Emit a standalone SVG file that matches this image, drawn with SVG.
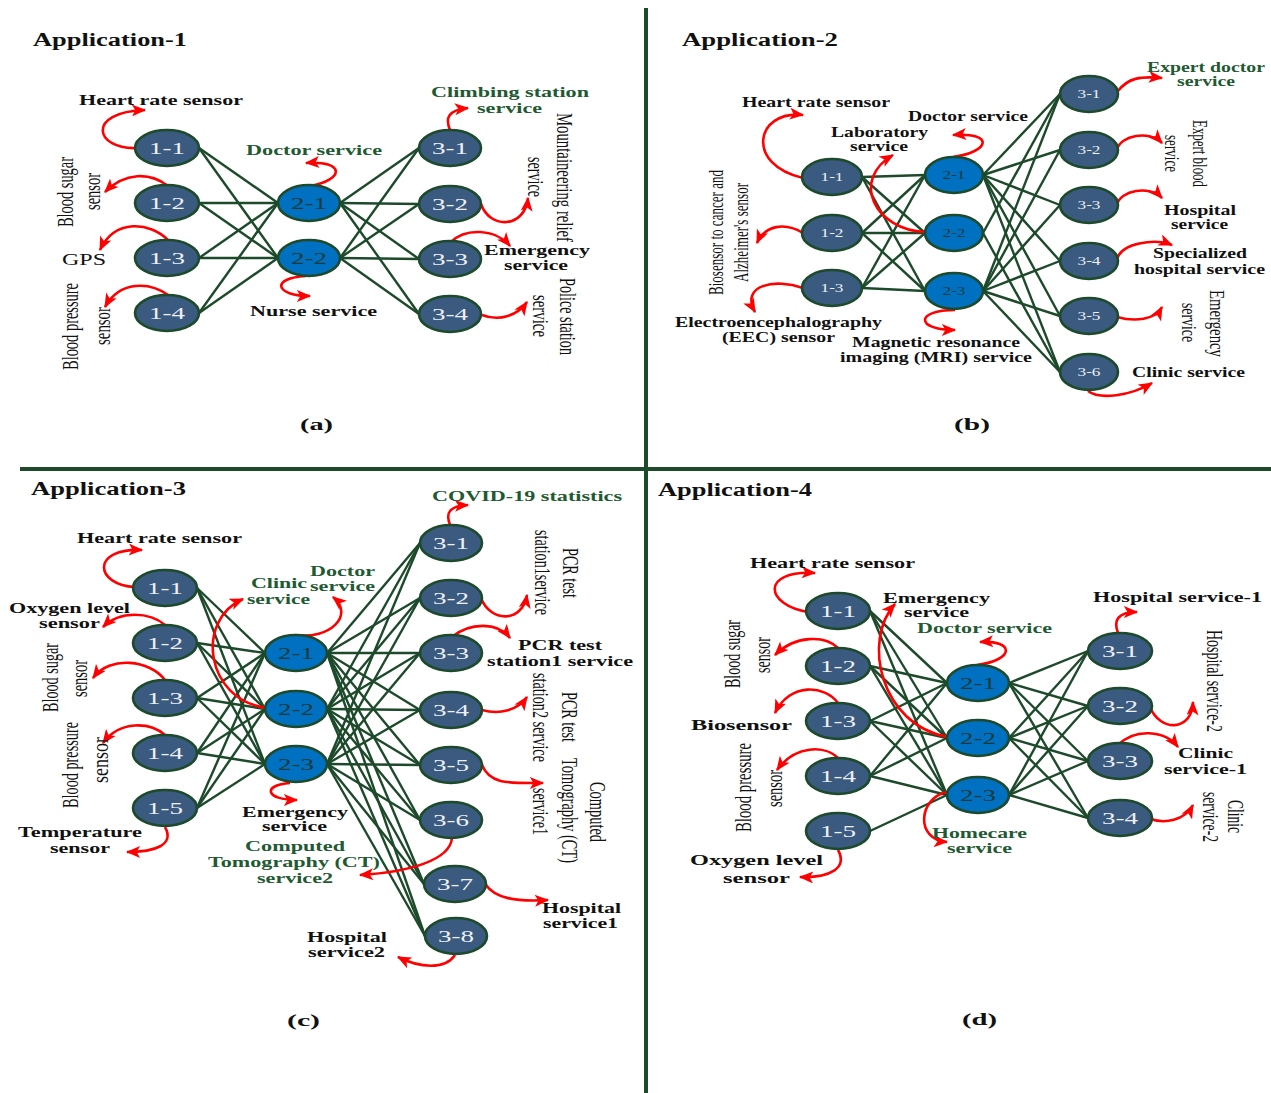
<svg xmlns="http://www.w3.org/2000/svg" width="1271" height="1093" viewBox="0 0 1271 1093">
<defs>
<marker id="ah" viewBox="0 0 12 10" refX="11" refY="5" markerWidth="15" markerHeight="12" markerUnits="userSpaceOnUse" orient="auto">
<path d="M0,0 L12,5 L0,10 L3,5 z" fill="#ff0000"/>
</marker>
<style>
.lk line{stroke:#1d4a2b;stroke-width:2.4}
.ar path{fill:none;stroke:#ff0000;stroke-width:2.6;marker-end:url(#ah)}
.n ellipse{fill:#3a5a80;stroke:#1d4a2b;stroke-width:2.6}
.n.m ellipse{fill:#0070c0}
.n text{font-family:"Liberation Serif",serif;font-size:17px;fill:#eef0f5;text-anchor:middle}
.n.m text{fill:#183a3a}
.sm text{font-size:12px}
.t{font-family:"Liberation Serif",serif;font-weight:bold;font-size:14px;fill:#111}
.g{fill:#1f5a33}
.h{font-size:18px}
.p{font-size:16px}
.r{font-family:"Liberation Serif",serif;font-size:17px;fill:#111;text-anchor:middle}
.rs{font-size:15px}
.dv{stroke:#1d4a2b;stroke-width:4}
</style>
</defs>
<rect width="1271" height="1093" fill="#ffffff"/>

<!-- quadrant dividers -->
<g id="dividers">
<line class="dv" x1="646" y1="8" x2="646" y2="1093"/>
<line class="dv" x1="20" y1="469" x2="1271" y2="469"/>
</g>

<!-- links between layers -->
<g id="connectors" class="lk">
<!-- (a) -->
<line x1="199" y1="148" x2="278" y2="203"/><line x1="199" y1="148" x2="278" y2="258"/>
<line x1="199" y1="203" x2="278" y2="203"/><line x1="199" y1="203" x2="278" y2="258"/>
<line x1="199" y1="258" x2="278" y2="203"/><line x1="199" y1="258" x2="278" y2="258"/>
<line x1="199" y1="313" x2="278" y2="203"/><line x1="199" y1="313" x2="278" y2="258"/>
<line x1="340" y1="203" x2="419" y2="148"/><line x1="340" y1="203" x2="419" y2="204"/>
<line x1="340" y1="203" x2="419" y2="259"/><line x1="340" y1="203" x2="419" y2="314"/>
<line x1="340" y1="258" x2="419" y2="148"/><line x1="340" y1="258" x2="419" y2="204"/>
<line x1="340" y1="258" x2="419" y2="259"/><line x1="340" y1="258" x2="419" y2="314"/>
<!-- (b) -->
<line x1="862" y1="177" x2="925" y2="175"/><line x1="862" y1="177" x2="925" y2="233"/><line x1="862" y1="177" x2="925" y2="291"/>
<line x1="862" y1="233" x2="925" y2="175"/><line x1="862" y1="233" x2="925" y2="233"/><line x1="862" y1="233" x2="925" y2="291"/>
<line x1="862" y1="288" x2="925" y2="175"/><line x1="862" y1="288" x2="925" y2="233"/><line x1="862" y1="288" x2="925" y2="291"/>
<line x1="983" y1="175" x2="1060" y2="94"/><line x1="983" y1="175" x2="1060" y2="150"/><line x1="983" y1="175" x2="1060" y2="205"/>
<line x1="983" y1="175" x2="1060" y2="261"/><line x1="983" y1="175" x2="1060" y2="316"/><line x1="983" y1="175" x2="1060" y2="372"/>
<line x1="983" y1="233" x2="1060" y2="94"/><line x1="983" y1="233" x2="1060" y2="372"/>
<line x1="983" y1="291" x2="1060" y2="94"/><line x1="983" y1="291" x2="1060" y2="150"/><line x1="983" y1="291" x2="1060" y2="205"/>
<line x1="983" y1="291" x2="1060" y2="261"/><line x1="983" y1="291" x2="1060" y2="316"/><line x1="983" y1="291" x2="1060" y2="372"/>
<!-- (c) -->
<line x1="197" y1="588" x2="265" y2="653"/><line x1="197" y1="588" x2="265" y2="709"/><line x1="197" y1="588" x2="265" y2="764"/>
<line x1="197" y1="643" x2="265" y2="653"/><line x1="197" y1="643" x2="265" y2="709"/><line x1="197" y1="643" x2="265" y2="764"/>
<line x1="197" y1="698" x2="265" y2="653"/><line x1="197" y1="698" x2="265" y2="709"/><line x1="197" y1="698" x2="265" y2="764"/>
<line x1="197" y1="753" x2="265" y2="653"/><line x1="197" y1="753" x2="265" y2="709"/><line x1="197" y1="753" x2="265" y2="764"/>
<line x1="197" y1="808" x2="265" y2="653"/><line x1="197" y1="808" x2="265" y2="709"/><line x1="197" y1="808" x2="265" y2="764"/>
<line x1="327" y1="653" x2="420" y2="543"/><line x1="327" y1="653" x2="420" y2="598"/><line x1="327" y1="653" x2="420" y2="653"/><line x1="327" y1="653" x2="420" y2="710"/>
<line x1="327" y1="653" x2="420" y2="765"/><line x1="327" y1="653" x2="420" y2="820"/><line x1="327" y1="653" x2="424" y2="884"/><line x1="327" y1="653" x2="425" y2="936"/>
<line x1="327" y1="709" x2="420" y2="543"/><line x1="327" y1="709" x2="420" y2="598"/><line x1="327" y1="709" x2="420" y2="653"/><line x1="327" y1="709" x2="420" y2="710"/>
<line x1="327" y1="709" x2="420" y2="765"/><line x1="327" y1="709" x2="420" y2="820"/><line x1="327" y1="709" x2="424" y2="884"/><line x1="327" y1="709" x2="425" y2="936"/>
<line x1="327" y1="764" x2="420" y2="543"/><line x1="327" y1="764" x2="420" y2="598"/><line x1="327" y1="764" x2="420" y2="653"/><line x1="327" y1="764" x2="420" y2="710"/>
<line x1="327" y1="764" x2="420" y2="765"/><line x1="327" y1="764" x2="420" y2="820"/><line x1="327" y1="764" x2="424" y2="884"/><line x1="327" y1="764" x2="425" y2="936"/>
<!-- (d) -->
<line x1="870" y1="611" x2="947" y2="683"/><line x1="870" y1="611" x2="947" y2="738"/><line x1="870" y1="611" x2="947" y2="795"/>
<line x1="870" y1="666" x2="947" y2="683"/><line x1="870" y1="666" x2="947" y2="738"/><line x1="870" y1="666" x2="947" y2="795"/>
<line x1="870" y1="721" x2="947" y2="683"/><line x1="870" y1="721" x2="947" y2="738"/><line x1="870" y1="721" x2="947" y2="795"/>
<line x1="870" y1="776" x2="947" y2="683"/><line x1="870" y1="776" x2="947" y2="738"/><line x1="870" y1="776" x2="947" y2="795"/>
<line x1="870" y1="831" x2="947" y2="795"/>
<line x1="1009" y1="683" x2="1088" y2="651"/><line x1="1009" y1="683" x2="1088" y2="706"/><line x1="1009" y1="683" x2="1088" y2="761"/><line x1="1009" y1="683" x2="1088" y2="818"/>
<line x1="1009" y1="738" x2="1088" y2="651"/><line x1="1009" y1="738" x2="1088" y2="706"/><line x1="1009" y1="738" x2="1088" y2="761"/><line x1="1009" y1="738" x2="1088" y2="818"/>
<line x1="1009" y1="795" x2="1088" y2="651"/><line x1="1009" y1="795" x2="1088" y2="706"/><line x1="1009" y1="795" x2="1088" y2="761"/><line x1="1009" y1="795" x2="1088" y2="818"/>
</g>

<!-- service / sensor call-out arrows -->
<g id="callouts" class="ar">
<!-- (a) -->
<path d="M137,148 C95,150 85,112 145,110"/>
<path d="M168,186 C150,172 125,172 105,192"/>
<path d="M168,240 C150,222 115,218 100,250"/>
<path d="M168,295 C150,282 120,280 105,307"/>
<path d="M310,186 C345,180 345,160 306,163"/>
<path d="M306,276 C270,278 275,296 310,296"/>
<path d="M450,130 C445,118 448,110 468,108"/>
<path d="M481,204 C490,230 525,228 528,198"/>
<path d="M451,242 C465,228 495,228 510,246"/>
<path d="M482,315 C500,322 518,315 527,302"/>
<!-- (b) -->
<path d="M803,178 C745,165 755,110 803,115"/>
<path d="M803,233 C785,222 765,225 757,243"/>
<path d="M803,288 C775,278 740,285 755,312"/>
<path d="M925,232 C875,230 850,180 893,155"/>
<path d="M953,157 C990,152 995,132 953,135"/>
<path d="M955,310 C915,310 915,330 955,330"/>
<path d="M1118,91 C1128,78 1140,76 1162,78"/>
<path d="M1117,150 C1120,135 1150,130 1162,143"/>
<path d="M1117,205 C1120,190 1150,185 1162,198"/>
<path d="M1117,260 C1120,243 1155,238 1172,245"/>
<path d="M1117,317 C1135,322 1155,320 1162,307"/>
<path d="M1088,391 C1100,400 1130,396 1152,383"/>
<!-- (c) -->
<path d="M135,587 C95,585 90,548 142,550"/>
<path d="M165,625 C150,612 120,610 103,627"/>
<path d="M165,680 C150,660 110,655 93,678"/>
<path d="M165,735 C150,722 120,720 103,743"/>
<path d="M165,827 C175,845 155,852 127,852"/>
<path d="M267,708 C205,700 195,620 243,599"/>
<path d="M295,635 C330,640 355,615 333,597"/>
<path d="M290,783 C262,785 265,800 297,800"/>
<path d="M450,525 C445,512 450,506 468,505"/>
<path d="M481,598 C490,622 522,624 527,595"/>
<path d="M452,637 C470,622 498,622 510,638"/>
<path d="M482,710 C500,715 518,710 527,697"/>
<path d="M482,765 C490,785 510,783 543,783"/>
<path d="M452,838 C450,860 410,872 360,875"/>
<path d="M486,885 C495,898 515,902 548,900"/>
<path d="M455,955 C445,970 420,968 398,957"/>
<!-- (d) -->
<path d="M808,612 C765,605 760,570 815,573"/>
<path d="M838,648 C825,635 795,635 775,655"/>
<path d="M838,703 C825,685 790,682 775,713"/>
<path d="M838,758 C825,745 795,745 777,770"/>
<path d="M838,850 C848,868 830,878 800,877"/>
<path d="M948,737 C880,725 862,640 895,604"/>
<path d="M977,665 C1015,660 1015,640 980,642"/>
<path d="M947,792 C918,798 915,840 947,842"/>
<path d="M1118,633 C1113,620 1118,612 1137,612"/>
<path d="M1150,707 C1160,732 1192,732 1193,702"/>
<path d="M1118,745 C1135,728 1165,730 1178,747"/>
<path d="M1148,818 C1165,825 1185,820 1193,805"/>
</g>

<!-- (a) nodes -->
<g id="a-1-1" class="n"><ellipse cx="167" cy="148" rx="32" ry="18"/><text x="167" y="154" textLength="36" lengthAdjust="spacingAndGlyphs">1-1</text></g>
<g id="a-1-2" class="n"><ellipse cx="167" cy="203" rx="32" ry="18"/><text x="167" y="209" textLength="36" lengthAdjust="spacingAndGlyphs">1-2</text></g>
<g id="a-1-3" class="n"><ellipse cx="167" cy="258" rx="32" ry="18"/><text x="167" y="264" textLength="36" lengthAdjust="spacingAndGlyphs">1-3</text></g>
<g id="a-1-4" class="n"><ellipse cx="167" cy="313" rx="32" ry="18"/><text x="167" y="319" textLength="36" lengthAdjust="spacingAndGlyphs">1-4</text></g>
<g id="a-2-1" class="n m"><ellipse cx="309" cy="203" rx="31" ry="18"/><text x="309" y="209" textLength="36" lengthAdjust="spacingAndGlyphs">2-1</text></g>
<g id="a-2-2" class="n m"><ellipse cx="309" cy="258" rx="31" ry="18"/><text x="309" y="264" textLength="36" lengthAdjust="spacingAndGlyphs">2-2</text></g>
<g id="a-3-1" class="n"><ellipse cx="450" cy="148" rx="31" ry="18"/><text x="450" y="154" textLength="36" lengthAdjust="spacingAndGlyphs">3-1</text></g>
<g id="a-3-2" class="n"><ellipse cx="450" cy="204" rx="31" ry="18"/><text x="450" y="210" textLength="36" lengthAdjust="spacingAndGlyphs">3-2</text></g>
<g id="a-3-3" class="n"><ellipse cx="450" cy="259" rx="31" ry="18"/><text x="450" y="265" textLength="36" lengthAdjust="spacingAndGlyphs">3-3</text></g>
<g id="a-3-4" class="n"><ellipse cx="450" cy="314" rx="31" ry="18"/><text x="450" y="320" textLength="36" lengthAdjust="spacingAndGlyphs">3-4</text></g>

<!-- (b) nodes -->
<g id="b-1-1" class="n sm"><ellipse cx="832" cy="177" rx="30" ry="18"/><text x="832" y="181" textLength="23" lengthAdjust="spacingAndGlyphs">1-1</text></g>
<g id="b-1-2" class="n sm"><ellipse cx="832" cy="233" rx="30" ry="18"/><text x="832" y="237" textLength="23" lengthAdjust="spacingAndGlyphs">1-2</text></g>
<g id="b-1-3" class="n sm"><ellipse cx="832" cy="288" rx="30" ry="18"/><text x="832" y="292" textLength="23" lengthAdjust="spacingAndGlyphs">1-3</text></g>
<g id="b-2-1" class="n m sm"><ellipse cx="954" cy="175" rx="29" ry="18"/><text x="954" y="179" textLength="23" lengthAdjust="spacingAndGlyphs">2-1</text></g>
<g id="b-2-2" class="n m sm"><ellipse cx="954" cy="233" rx="29" ry="18"/><text x="954" y="237" textLength="23" lengthAdjust="spacingAndGlyphs">2-2</text></g>
<g id="b-2-3" class="n m sm"><ellipse cx="954" cy="291" rx="29" ry="18"/><text x="954" y="295" textLength="23" lengthAdjust="spacingAndGlyphs">2-3</text></g>
<g id="b-3-1" class="n sm"><ellipse cx="1089" cy="94" rx="29" ry="18"/><text x="1089" y="98" textLength="23" lengthAdjust="spacingAndGlyphs">3-1</text></g>
<g id="b-3-2" class="n sm"><ellipse cx="1089" cy="150" rx="29" ry="18"/><text x="1089" y="154" textLength="23" lengthAdjust="spacingAndGlyphs">3-2</text></g>
<g id="b-3-3" class="n sm"><ellipse cx="1089" cy="205" rx="29" ry="18"/><text x="1089" y="209" textLength="23" lengthAdjust="spacingAndGlyphs">3-3</text></g>
<g id="b-3-4" class="n sm"><ellipse cx="1089" cy="261" rx="29" ry="18"/><text x="1089" y="265" textLength="23" lengthAdjust="spacingAndGlyphs">3-4</text></g>
<g id="b-3-5" class="n sm"><ellipse cx="1089" cy="316" rx="29" ry="18"/><text x="1089" y="320" textLength="23" lengthAdjust="spacingAndGlyphs">3-5</text></g>
<g id="b-3-6" class="n sm"><ellipse cx="1089" cy="372" rx="29" ry="18"/><text x="1089" y="376" textLength="23" lengthAdjust="spacingAndGlyphs">3-6</text></g>

<!-- (c) nodes -->
<g id="c-1-1" class="n"><ellipse cx="165" cy="588" rx="32" ry="18"/><text x="165" y="594" textLength="36" lengthAdjust="spacingAndGlyphs">1-1</text></g>
<g id="c-1-2" class="n"><ellipse cx="165" cy="643" rx="32" ry="18"/><text x="165" y="649" textLength="36" lengthAdjust="spacingAndGlyphs">1-2</text></g>
<g id="c-1-3" class="n"><ellipse cx="165" cy="698" rx="32" ry="18"/><text x="165" y="704" textLength="36" lengthAdjust="spacingAndGlyphs">1-3</text></g>
<g id="c-1-4" class="n"><ellipse cx="165" cy="753" rx="32" ry="18"/><text x="165" y="759" textLength="36" lengthAdjust="spacingAndGlyphs">1-4</text></g>
<g id="c-1-5" class="n"><ellipse cx="165" cy="808" rx="32" ry="18"/><text x="165" y="814" textLength="36" lengthAdjust="spacingAndGlyphs">1-5</text></g>
<g id="c-2-1" class="n m"><ellipse cx="296" cy="653" rx="31" ry="18"/><text x="296" y="659" textLength="36" lengthAdjust="spacingAndGlyphs">2-1</text></g>
<g id="c-2-2" class="n m"><ellipse cx="296" cy="709" rx="31" ry="18"/><text x="296" y="715" textLength="36" lengthAdjust="spacingAndGlyphs">2-2</text></g>
<g id="c-2-3" class="n m"><ellipse cx="296" cy="764" rx="31" ry="18"/><text x="296" y="770" textLength="36" lengthAdjust="spacingAndGlyphs">2-3</text></g>
<g id="c-3-1" class="n"><ellipse cx="451" cy="543" rx="31" ry="18"/><text x="451" y="549" textLength="36" lengthAdjust="spacingAndGlyphs">3-1</text></g>
<g id="c-3-2" class="n"><ellipse cx="451" cy="598" rx="31" ry="18"/><text x="451" y="604" textLength="36" lengthAdjust="spacingAndGlyphs">3-2</text></g>
<g id="c-3-3" class="n"><ellipse cx="451" cy="653" rx="31" ry="18"/><text x="451" y="659" textLength="36" lengthAdjust="spacingAndGlyphs">3-3</text></g>
<g id="c-3-4" class="n"><ellipse cx="451" cy="710" rx="31" ry="18"/><text x="451" y="716" textLength="36" lengthAdjust="spacingAndGlyphs">3-4</text></g>
<g id="c-3-5" class="n"><ellipse cx="451" cy="765" rx="31" ry="18"/><text x="451" y="771" textLength="36" lengthAdjust="spacingAndGlyphs">3-5</text></g>
<g id="c-3-6" class="n"><ellipse cx="451" cy="820" rx="31" ry="18"/><text x="451" y="826" textLength="36" lengthAdjust="spacingAndGlyphs">3-6</text></g>
<g id="c-3-7" class="n"><ellipse cx="455" cy="884" rx="31" ry="18"/><text x="455" y="890" textLength="36" lengthAdjust="spacingAndGlyphs">3-7</text></g>
<g id="c-3-8" class="n"><ellipse cx="456" cy="936" rx="31" ry="18"/><text x="456" y="942" textLength="36" lengthAdjust="spacingAndGlyphs">3-8</text></g>

<!-- (d) nodes -->
<g id="d-1-1" class="n"><ellipse cx="838" cy="611" rx="32" ry="18"/><text x="838" y="617" textLength="36" lengthAdjust="spacingAndGlyphs">1-1</text></g>
<g id="d-1-2" class="n"><ellipse cx="838" cy="666" rx="32" ry="18"/><text x="838" y="672" textLength="36" lengthAdjust="spacingAndGlyphs">1-2</text></g>
<g id="d-1-3" class="n"><ellipse cx="838" cy="721" rx="32" ry="18"/><text x="838" y="727" textLength="36" lengthAdjust="spacingAndGlyphs">1-3</text></g>
<g id="d-1-4" class="n"><ellipse cx="838" cy="776" rx="32" ry="18"/><text x="838" y="782" textLength="36" lengthAdjust="spacingAndGlyphs">1-4</text></g>
<g id="d-1-5" class="n"><ellipse cx="838" cy="831" rx="32" ry="18"/><text x="838" y="837" textLength="36" lengthAdjust="spacingAndGlyphs">1-5</text></g>
<g id="d-2-1" class="n m"><ellipse cx="978" cy="683" rx="31" ry="18"/><text x="978" y="689" textLength="36" lengthAdjust="spacingAndGlyphs">2-1</text></g>
<g id="d-2-2" class="n m"><ellipse cx="978" cy="738" rx="31" ry="18"/><text x="978" y="744" textLength="36" lengthAdjust="spacingAndGlyphs">2-2</text></g>
<g id="d-2-3" class="n m"><ellipse cx="978" cy="795" rx="31" ry="18"/><text x="978" y="801" textLength="36" lengthAdjust="spacingAndGlyphs">2-3</text></g>
<g id="d-3-1" class="n"><ellipse cx="1120" cy="651" rx="32" ry="18"/><text x="1120" y="657" textLength="36" lengthAdjust="spacingAndGlyphs">3-1</text></g>
<g id="d-3-2" class="n"><ellipse cx="1120" cy="706" rx="32" ry="18"/><text x="1120" y="712" textLength="36" lengthAdjust="spacingAndGlyphs">3-2</text></g>
<g id="d-3-3" class="n"><ellipse cx="1120" cy="761" rx="32" ry="18"/><text x="1120" y="767" textLength="36" lengthAdjust="spacingAndGlyphs">3-3</text></g>
<g id="d-3-4" class="n"><ellipse cx="1120" cy="818" rx="32" ry="18"/><text x="1120" y="824" textLength="36" lengthAdjust="spacingAndGlyphs">3-4</text></g>

<!-- (a) labels -->
<g id="labels-a">
<text class="t h" x="33" y="46" textLength="154" lengthAdjust="spacingAndGlyphs">Application-1</text>
<text class="t" x="79" y="105" textLength="164" lengthAdjust="spacingAndGlyphs">Heart rate sensor</text>
<text class="t g" x="246" y="155" textLength="136" lengthAdjust="spacingAndGlyphs">Doctor service</text>
<text class="t" x="250" y="316" textLength="127" lengthAdjust="spacingAndGlyphs">Nurse service</text>
<text class="t g" x="431" y="97" textLength="158" lengthAdjust="spacingAndGlyphs">Climbing station</text>
<text class="t g" x="477" y="113" textLength="65" lengthAdjust="spacingAndGlyphs">service</text>
<text class="t" x="484" y="255" textLength="106" lengthAdjust="spacingAndGlyphs">Emergency</text>
<text class="t" x="504" y="270" textLength="64" lengthAdjust="spacingAndGlyphs">service</text>
<text class="t p" x="300" y="430" textLength="33" lengthAdjust="spacingAndGlyphs">(a)</text>
<text x="62" y="265" font-family="Liberation Serif, serif" font-size="17" fill="#111" textLength="44" lengthAdjust="spacingAndGlyphs">GPS</text>
<text class="r" transform="translate(73,192) rotate(-90) scale(1,1.4)" textLength="70" lengthAdjust="spacingAndGlyphs">Blood sugar</text>
<text class="r" transform="translate(100,191.5) rotate(-90) scale(1,1.4)" textLength="37" lengthAdjust="spacingAndGlyphs">sensor</text>
<text class="r" transform="translate(78,326.5) rotate(-90) scale(1,1.4)" textLength="87" lengthAdjust="spacingAndGlyphs">Blood pressure</text>
<text class="r" transform="translate(110,326) rotate(-90) scale(1,1.4)" textLength="38" lengthAdjust="spacingAndGlyphs">sensor</text>
<text class="r" transform="translate(557,177.5) rotate(90) scale(1,1.4)" textLength="129" lengthAdjust="spacingAndGlyphs">Mountaineering relief</text>
<text class="r" transform="translate(528,177) rotate(90) scale(1,1.4)" textLength="40" lengthAdjust="spacingAndGlyphs">service</text>
<text class="r" transform="translate(560,316.5) rotate(90) scale(1,1.4)" textLength="77" lengthAdjust="spacingAndGlyphs">Police station</text>
<text class="r" transform="translate(533,316) rotate(90) scale(1,1.4)" textLength="42" lengthAdjust="spacingAndGlyphs">service</text>
</g>

<!-- (b) labels -->
<g id="labels-b">
<text class="t h" x="682" y="46" textLength="156" lengthAdjust="spacingAndGlyphs">Application-2</text>
<text class="t" x="742" y="107" textLength="148" lengthAdjust="spacingAndGlyphs">Heart rate sensor</text>
<text class="t" x="908" y="121" textLength="120" lengthAdjust="spacingAndGlyphs">Doctor service</text>
<text class="t" x="831" y="137" textLength="97" lengthAdjust="spacingAndGlyphs">Laboratory</text>
<text class="t" x="850" y="151" textLength="58" lengthAdjust="spacingAndGlyphs">service</text>
<text class="t" x="675" y="327" textLength="207" lengthAdjust="spacingAndGlyphs">Electroencephalography</text>
<text class="t" x="722" y="342" textLength="113" lengthAdjust="spacingAndGlyphs">(EEC) sensor</text>
<text class="t" x="852" y="347" textLength="168" lengthAdjust="spacingAndGlyphs">Magnetic resonance</text>
<text class="t" x="840" y="362" textLength="192" lengthAdjust="spacingAndGlyphs">imaging (MRI) service</text>
<text class="t g" x="1147" y="72" textLength="118" lengthAdjust="spacingAndGlyphs">Expert doctor</text>
<text class="t g" x="1177" y="86" textLength="58" lengthAdjust="spacingAndGlyphs">service</text>
<text class="t" x="1164" y="215" textLength="72" lengthAdjust="spacingAndGlyphs">Hospital</text>
<text class="t" x="1171" y="229" textLength="57" lengthAdjust="spacingAndGlyphs">service</text>
<text class="t" x="1153" y="258" textLength="94" lengthAdjust="spacingAndGlyphs">Specialized</text>
<text class="t" x="1134" y="274" textLength="131" lengthAdjust="spacingAndGlyphs">hospital service</text>
<text class="t" x="1132" y="377" textLength="113" lengthAdjust="spacingAndGlyphs">Clinic service</text>
<text class="t p" x="954" y="430" textLength="36" lengthAdjust="spacingAndGlyphs">(b)</text>
<text class="r rs" transform="translate(723,232.5) rotate(-90) scale(1,1.45)" textLength="125" lengthAdjust="spacingAndGlyphs">Biosensor to cancer and</text>
<text class="r rs" transform="translate(748,232.5) rotate(-90) scale(1,1.45)" textLength="99" lengthAdjust="spacingAndGlyphs">Alzheimer's sensor</text>
<text class="r rs" transform="translate(1193,153.5) rotate(90) scale(1,1.45)" textLength="67" lengthAdjust="spacingAndGlyphs">Expert blood</text>
<text class="r rs" transform="translate(1165,153.5) rotate(90) scale(1,1.45)" textLength="37" lengthAdjust="spacingAndGlyphs">service</text>
<text class="r rs" transform="translate(1210,323.5) rotate(90) scale(1,1.45)" textLength="67" lengthAdjust="spacingAndGlyphs">Emergency</text>
<text class="r rs" transform="translate(1182,322.5) rotate(90) scale(1,1.45)" textLength="39" lengthAdjust="spacingAndGlyphs">service</text>
</g>

<!-- (c) labels -->
<g id="labels-c">
<text class="t h" x="31" y="495" textLength="155" lengthAdjust="spacingAndGlyphs">Application-3</text>
<text class="t" x="77" y="543" textLength="165" lengthAdjust="spacingAndGlyphs">Heart rate sensor</text>
<text class="t" x="9" y="613" textLength="121" lengthAdjust="spacingAndGlyphs">Oxygen level</text>
<text class="t" x="39" y="628" textLength="61" lengthAdjust="spacingAndGlyphs">sensor</text>
<text class="t" x="18" y="837" textLength="124" lengthAdjust="spacingAndGlyphs">Temperature</text>
<text class="t" x="50" y="853" textLength="60" lengthAdjust="spacingAndGlyphs">sensor</text>
<text class="t g" x="251" y="588" textLength="56" lengthAdjust="spacingAndGlyphs">Clinic</text>
<text class="t g" x="247" y="604" textLength="63" lengthAdjust="spacingAndGlyphs">service</text>
<text class="t g" x="310" y="576" textLength="65" lengthAdjust="spacingAndGlyphs">Doctor</text>
<text class="t g" x="310" y="591" textLength="65" lengthAdjust="spacingAndGlyphs">service</text>
<text class="t" x="242" y="817" textLength="106" lengthAdjust="spacingAndGlyphs">Emergency</text>
<text class="t" x="262" y="831" textLength="65" lengthAdjust="spacingAndGlyphs">service</text>
<text class="t g" x="245" y="851" textLength="100" lengthAdjust="spacingAndGlyphs">Computed</text>
<text class="t g" x="208" y="867" textLength="172" lengthAdjust="spacingAndGlyphs">Tomography (CT)</text>
<text class="t g" x="257" y="883" textLength="76" lengthAdjust="spacingAndGlyphs">service2</text>
<text class="t g" x="432" y="501" textLength="190" lengthAdjust="spacingAndGlyphs">COVID-19 statistics</text>
<text class="t" x="518" y="650" textLength="84" lengthAdjust="spacingAndGlyphs">PCR test</text>
<text class="t" x="487" y="666" textLength="146" lengthAdjust="spacingAndGlyphs">station1 service</text>
<text class="t" x="542" y="913" textLength="79" lengthAdjust="spacingAndGlyphs">Hospital</text>
<text class="t" x="543" y="928" textLength="75" lengthAdjust="spacingAndGlyphs">service1</text>
<text class="t" x="307" y="942" textLength="80" lengthAdjust="spacingAndGlyphs">Hospital</text>
<text class="t" x="308" y="957" textLength="77" lengthAdjust="spacingAndGlyphs">service2</text>
<text class="t p" x="287" y="1026" textLength="33" lengthAdjust="spacingAndGlyphs">(c)</text>
<text class="r" transform="translate(58,677.5) rotate(-90) scale(1,1.4)" textLength="69" lengthAdjust="spacingAndGlyphs">Blood sugar</text>
<text class="r" transform="translate(87,678.5) rotate(-90) scale(1,1.4)" textLength="37" lengthAdjust="spacingAndGlyphs">sensor</text>
<text class="r" transform="translate(78,765) rotate(-90) scale(1,1.4)" textLength="86" lengthAdjust="spacingAndGlyphs">Blood pressure</text>
<text class="r" transform="translate(108,760) rotate(-90) scale(1,1.4)" textLength="46" lengthAdjust="spacingAndGlyphs">sensor</text>
<text class="r" transform="translate(563,573) rotate(90) scale(1,1.4)" textLength="50" lengthAdjust="spacingAndGlyphs">PCR test</text>
<text class="r" transform="translate(535,572.5) rotate(90) scale(1,1.4)" textLength="85" lengthAdjust="spacingAndGlyphs">station1service</text>
<text class="r" transform="translate(562,717) rotate(90) scale(1,1.4)" textLength="50" lengthAdjust="spacingAndGlyphs">PCR test</text>
<text class="r" transform="translate(533,717.5) rotate(90) scale(1,1.4)" textLength="89" lengthAdjust="spacingAndGlyphs">station2 service</text>
<text class="r" transform="translate(590,812) rotate(90) scale(1,1.4)" textLength="60" lengthAdjust="spacingAndGlyphs">Computed</text>
<text class="r" transform="translate(562,810.5) rotate(90) scale(1,1.4)" textLength="105" lengthAdjust="spacingAndGlyphs">Tomography (CT)</text>
<text class="r" transform="translate(533,811.5) rotate(90) scale(1,1.4)" textLength="47" lengthAdjust="spacingAndGlyphs">service1</text>
</g>

<!-- (d) labels -->
<g id="labels-d">
<text class="t h" x="658" y="496" textLength="154" lengthAdjust="spacingAndGlyphs">Application-4</text>
<text class="t" x="750" y="568" textLength="165" lengthAdjust="spacingAndGlyphs">Heart rate sensor</text>
<text class="t" x="883" y="603" textLength="107" lengthAdjust="spacingAndGlyphs">Emergency</text>
<text class="t" x="904" y="617" textLength="65" lengthAdjust="spacingAndGlyphs">service</text>
<text class="t g" x="917" y="633" textLength="135" lengthAdjust="spacingAndGlyphs">Doctor service</text>
<text class="t" x="691" y="730" textLength="101" lengthAdjust="spacingAndGlyphs">Biosensor</text>
<text class="t" x="690" y="865" textLength="133" lengthAdjust="spacingAndGlyphs">Oxygen level</text>
<text class="t" x="723" y="883" textLength="67" lengthAdjust="spacingAndGlyphs">sensor</text>
<text class="t g" x="932" y="838" textLength="95" lengthAdjust="spacingAndGlyphs">Homecare</text>
<text class="t g" x="947" y="853" textLength="65" lengthAdjust="spacingAndGlyphs">service</text>
<text class="t" x="1093" y="602" textLength="169" lengthAdjust="spacingAndGlyphs">Hospital service-1</text>
<text class="t" x="1178" y="758" textLength="55" lengthAdjust="spacingAndGlyphs">Clinic</text>
<text class="t" x="1164" y="774" textLength="83" lengthAdjust="spacingAndGlyphs">service-1</text>
<text class="t p" x="962" y="1025" textLength="35" lengthAdjust="spacingAndGlyphs">(d)</text>
<text class="r" transform="translate(740,654) rotate(-90) scale(1,1.4)" textLength="68" lengthAdjust="spacingAndGlyphs">Blood sugar</text>
<text class="r" transform="translate(770,655) rotate(-90) scale(1,1.4)" textLength="36" lengthAdjust="spacingAndGlyphs">sensor</text>
<text class="r" transform="translate(751,787.5) rotate(-90) scale(1,1.4)" textLength="89" lengthAdjust="spacingAndGlyphs">Blood pressure</text>
<text class="r" transform="translate(782,788.5) rotate(-90) scale(1,1.4)" textLength="37" lengthAdjust="spacingAndGlyphs">sensor</text>
<text class="r" transform="translate(1207,681) rotate(90) scale(1,1.4)" textLength="102" lengthAdjust="spacingAndGlyphs">Hospital service-2</text>
<text class="r" transform="translate(1228,816.5) rotate(90) scale(1,1.4)" textLength="33" lengthAdjust="spacingAndGlyphs">Clinic</text>
<text class="r" transform="translate(1203,817) rotate(90) scale(1,1.4)" textLength="50" lengthAdjust="spacingAndGlyphs">service-2</text>
</g>
</svg>
